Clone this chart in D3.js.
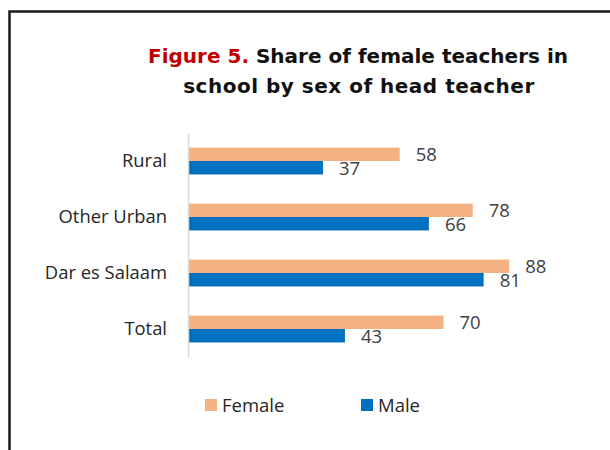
<!DOCTYPE html>
<html>
<head>
<meta charset="utf-8">
<script src="https://cdn.jsdelivr.net/npm/d3@7"></script>
<style>
  html, body { margin: 0; padding: 0; background: #fff; }
  svg { display: block; }
</style>
</head>
<body>
<svg id="chart" width="610" height="450"></svg>
<script>
// ---- data ----
const categories = ["Rural", "Other Urban", "Dar es Salaam", "Total"];
const seriesNames = ["Female", "Male"];
const femaleValues = [58, 78, 88, 70];
const maleValues = [37, 66, 81, 43];
const titleRed = "Figure 5.";
const titleLine1 = " Share of female teachers in";
const titleLine2 = "school by sex of head teacher";

const colors = { Female: "#F4B183", Male: "#0070C0" };
const seriesValues = { Female: femaleValues, Male: maleValues };

const svg = d3.select("#chart");

// frame
svg.append("path")
  .attr("d", "M9.5,460 L9.5,11.5 L620,11.5")
  .attr("fill", "none")
  .attr("stroke", "#1a1a1a")
  .attr("stroke-width", 2.5);

// title
const titleFont = "'DejaVu Sans', sans-serif";
const t1 = svg.append("text")
  .attr("x", 358).attr("y", 63)
  .attr("text-anchor", "middle")
  .style("font-family", titleFont)
  .style("font-weight", "bold")
  .style("font-size", "20px")
  .attr("fill", "#111");
t1.append("tspan").attr("fill", "#C00000").text(titleRed);
t1.append("tspan").text(titleLine1);
svg.append("text")
  .attr("x", 359).attr("y", 93)
  .attr("text-anchor", "middle")
  .style("font-family", titleFont)
  .style("font-weight", "bold")
  .style("font-size", "20px")
  .style("letter-spacing", "0.5px")
  .attr("fill", "#111")
  .text(titleLine2);

// scales
const x = d3.scaleLinear().domain([0, 100]).range([188, 553]);
const y0 = d3.scaleBand().domain(categories).range([133, 357])
  .paddingInner(0.52).paddingOuter(0.26);
const y1 = d3.scaleBand().domain(seriesNames).range([0, y0.bandwidth()]);

const labelFont = "'Open Sans', 'Noto Sans', sans-serif";

// bars
const groups = svg.append("g").selectAll("g")
  .data(categories)
  .join("g")
  .attr("transform", d => `translate(0,${y0(d)})`);

groups.selectAll("rect")
  .data((c, i) => seriesNames.map(s => ({ s, v: seriesValues[s][i] })))
  .join("rect")
  .attr("x", x(0))
  .attr("y", d => y1(d.s))
  .attr("width", d => x(d.v) - x(0))
  .attr("height", y1.bandwidth())
  .attr("fill", d => colors[d.s]);

groups.selectAll("text.val")
  .data((c, i) => seriesNames.map(s => ({ s, v: seriesValues[s][i] })))
  .join("text")
  .attr("class", "val")
  .attr("x", d => x(d.v) + 16)
  .attr("y", d => y1(d.s) + y1.bandwidth() / 2 + 0.5)
  .attr("dy", "0.36em")
  .style("font-family", labelFont)
  .style("font-size", "18.5px")
  .attr("fill", "#404040")
  .text(d => d.v);

// y axis
const yAxis = d3.axisLeft(y0).tickSize(0).tickPadding(21);
const ag = svg.append("g")
  .attr("transform", `translate(${x(0)},0)`)
  .call(yAxis);
ag.select(".domain").attr("stroke", "#D9D9D9").attr("stroke-width", 1.5);
ag.selectAll("text")
  .style("font-family", labelFont)
  .style("font-size", "18.4px")
  .attr("fill", "#262626");

// legend
const legendX = { Female: 205, Male: 361 };
const lg = svg.append("g").selectAll("g")
  .data(seriesNames)
  .join("g")
  .attr("transform", d => `translate(${legendX[d]},399)`);
lg.append("rect").attr("width", 12).attr("height", 12).attr("fill", d => colors[d]);
lg.append("text")
  .attr("x", 17).attr("y", 6).attr("dy", "0.36em")
  .style("font-family", labelFont)
  .style("font-size", "18.5px")
  .attr("fill", "#262626")
  .text(d => d);
</script>
</body>
</html>
